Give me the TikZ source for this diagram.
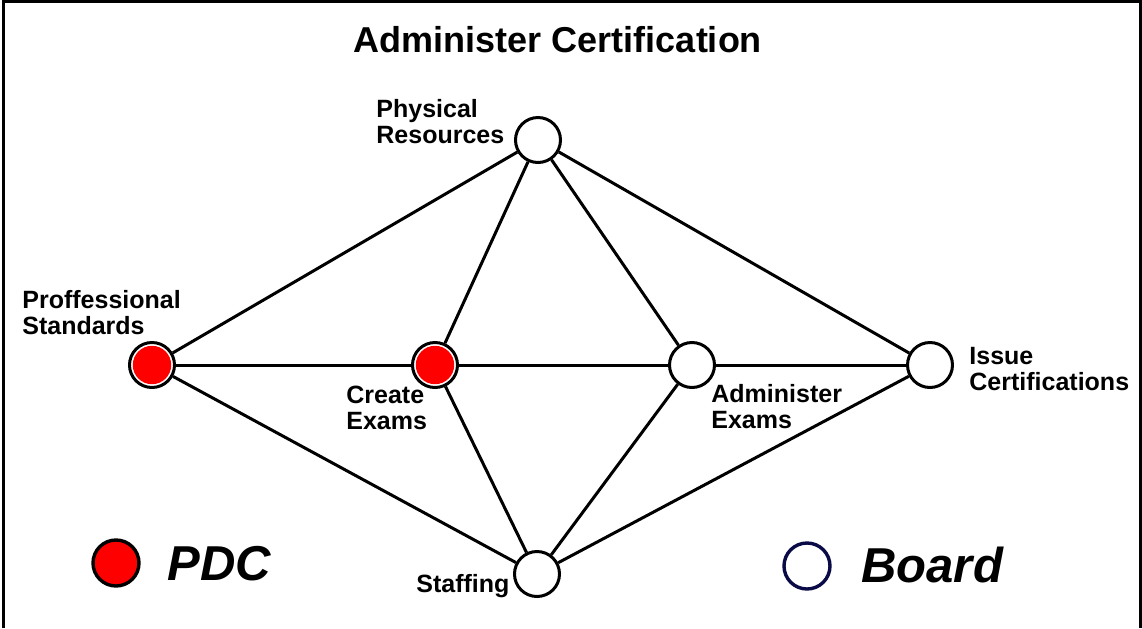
\documentclass[tikz,border=0pt]{standalone}
\usepackage{fontspec}
\setmainfont{Liberation Sans}
\definecolor{pdcred}{RGB}{255,0,0}
\definecolor{boardblue}{RGB}{10,10,70}
\begin{document}
\begin{tikzpicture}[x=0.5pt,y=-0.5pt,
  every node/.style={inner sep=0pt},
  actor/.style={circle,draw=black,line width=1.5pt,fill=white,minimum size=22.5pt},
  pdc/.style={actor,path picture={\fill[pdcred] (path picture bounding box.center) circle (9.6pt);}},
  lbl/.style={font=\fontsize{12.5}{13}\selectfont\bfseries,align=left,anchor=west},
  link/.style={line width=1.5pt},
  legendtxt/.style={font=\fontsize{24.5}{28}\selectfont\bfseries\itshape,anchor=base west},
  legendmark/.style={circle,line width=1.7pt,minimum size=23pt}]
\useasboundingbox (0,0) rectangle (1142,628);
% frame
\draw[line width=1.5pt] (3,628) -- (3,1.5) -- (1140.5,1.5) -- (1140.5,628);
% title
\node[font=\fontsize{18}{22}\selectfont\bfseries,anchor=base] (title) at (558,52) {Administer Certification};
% nodes
\node[actor] (pr) at (538,140) {};
\node[pdc] (ps) at (152,365) {};
\node[pdc] (ce) at (435,365) {};
\node[actor] (ae) at (692,365) {};
\node[actor] (ic) at (930,365) {};
\node[actor] (st) at (537,574) {};
% edges
\draw[link] (ps) -- (pr);
\draw[link] (ps) -- (ce);
\draw[link] (ps) -- (st);
\draw[link] (pr) -- (ce);
\draw[link] (pr) -- (ae);
\draw[link] (pr) -- (ic);
\draw[link] (ce) -- (ae);
\draw[link] (ae) -- (ic);
\draw[link] (ce) -- (st);
\draw[link] (ae) -- (st);
\draw[link] (ic) -- (st);
% labels
\node[lbl] (lpr) at (376,122) {Physical\\Resources};
\node[lbl] (lps) at (22,313) {Proffessional\\Standards};
\node[lbl] (lce) at (346,408) {Create\\Exams};
\node[lbl] (lae) at (711,407) {Administer\\Exams};
\node[lbl] (lic) at (969,369) {Issue\\Certifications};
\node[lbl,anchor=base west] (lst) at (416,592) {Staffing};
% legend
\node[legendmark,draw=black,fill=pdcred] (mpdc) at (116,563) {};
\node[legendtxt] (tpdc) at (167,580) {PDC};
\node[legendmark,draw=boardblue,fill=white] (mboard) at (807,566) {};
\node[legendtxt] (tboard) at (861,582) {Board};
\end{tikzpicture}
\end{document}
